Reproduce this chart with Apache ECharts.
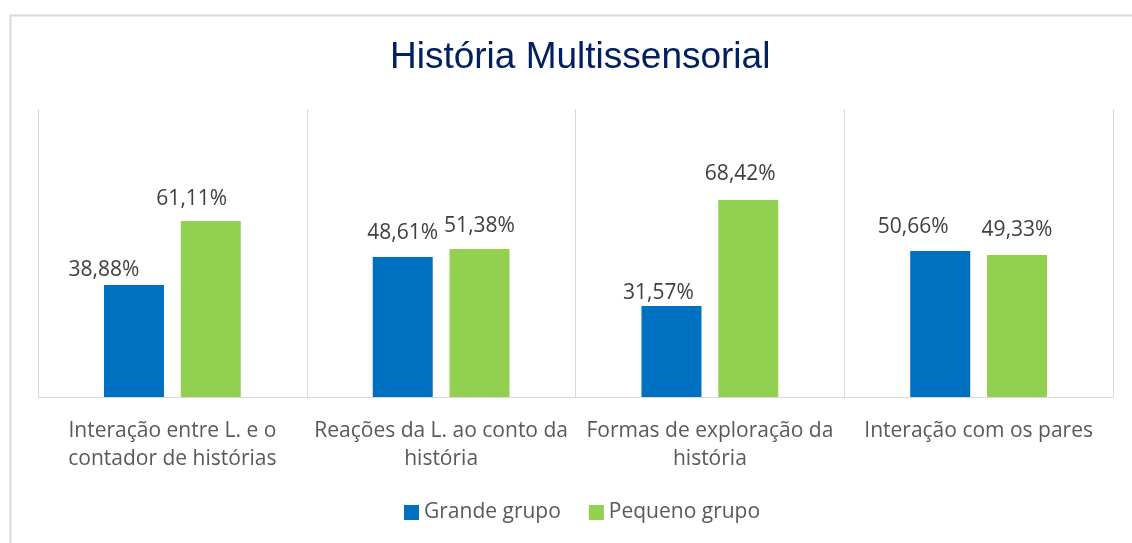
<!DOCTYPE html>
<html>
<head>
<meta charset="utf-8">
<script src="https://cdn.jsdelivr.net/npm/echarts@6/dist/echarts.min.js"></script>
<style>
  html, body { margin: 0; padding: 0; background: #fff; }
  #chart { width: 1132px; height: 543px; }
</style>
</head>
<body>
<div id="chart"></div>
<script>
const categories = [
  'Interação entre L. e o\ncontador de histórias',
  'Reações da L. ao conto da\nhistória',
  'Formas de exploração da\nhistória',
  'Interação com os pares'
];
const grandeGrupo = [38.88, 48.61, 31.57, 50.66];
const pequenoGrupo = [61.11, 51.38, 68.42, 49.33];

// labels were nudged by hand in the original, keep that
const grandeOffsets = [[-30, 8], [0, 0], [-13, 10], [-27, -1]];
const pequenoOffsets = [[-19, 2], [0, 0], [-8, -2], [0, -1]];

const chart = echarts.init(document.getElementById('chart'));

const pct = p => p.value.toFixed(2).replace('.', ',') + '%';
const labelStyle = {
  show: true,
  position: 'top',
  distance: 13,
  color: '#404040',
  fontSize: 21,
  fontFamily: 'Open Sans',
  formatter: pct
};

const withOffsets = (vals, offs) =>
  vals.map((v, i) => ({ value: v, label: { offset: offs[i] } }));

chart.setOption({
  animation: false,
  graphic: [{
    type: 'rect',
    left: 8, top: 13,
    shape: { width: 1140, height: 560 },
    style: { fill: 'none', stroke: '#d9d9d9', lineWidth: 2 },
    silent: true
  }],
  title: {
    text: 'História Multissensorial',
    left: 385,
    top: 34,
    textStyle: {
      color: '#002060',
      fontSize: 37,
      fontWeight: 'normal',
      fontFamily: 'Liberation Sans, Arial'
    }
  },
  legend: {
    bottom: 15,
    left: 399,
    itemWidth: 15,
    itemHeight: 15,
    itemGap: 28,
    icon: 'rect',
    textStyle: { color: '#595959', fontSize: 21, fontFamily: 'Open Sans' },
    data: ['Grande grupo', 'Pequeno grupo']
  },
  grid: { left: 38, right: 19, top: 109, bottom: 146 },
  xAxis: {
    type: 'category',
    data: categories,
    axisLine: { lineStyle: { color: '#d9d9d9', width: 1 } },
    axisTick: { show: false },
    splitLine: { show: true, lineStyle: { color: '#d9d9d9' } },
    axisLabel: {
      color: '#595959',
      fontSize: 21,
      fontFamily: 'Open Sans',
      lineHeight: 28,
      margin: 20,
      interval: 0
    }
  },
  yAxis: {
    type: 'value',
    min: 0,
    max: 100,
    show: false
  },
  series: [
    {
      name: 'Grande grupo',
      type: 'bar',
      data: withOffsets(grandeGrupo, grandeOffsets),
      barWidth: 60,
      barGap: '28%',
      itemStyle: { color: '#0070C0' },
      label: labelStyle
    },
    {
      name: 'Pequeno grupo',
      type: 'bar',
      data: withOffsets(pequenoGrupo, pequenoOffsets),
      barWidth: 60,
      itemStyle: { color: '#92D050' },
      label: labelStyle
    }
  ]
});
</script>
</body>
</html>
